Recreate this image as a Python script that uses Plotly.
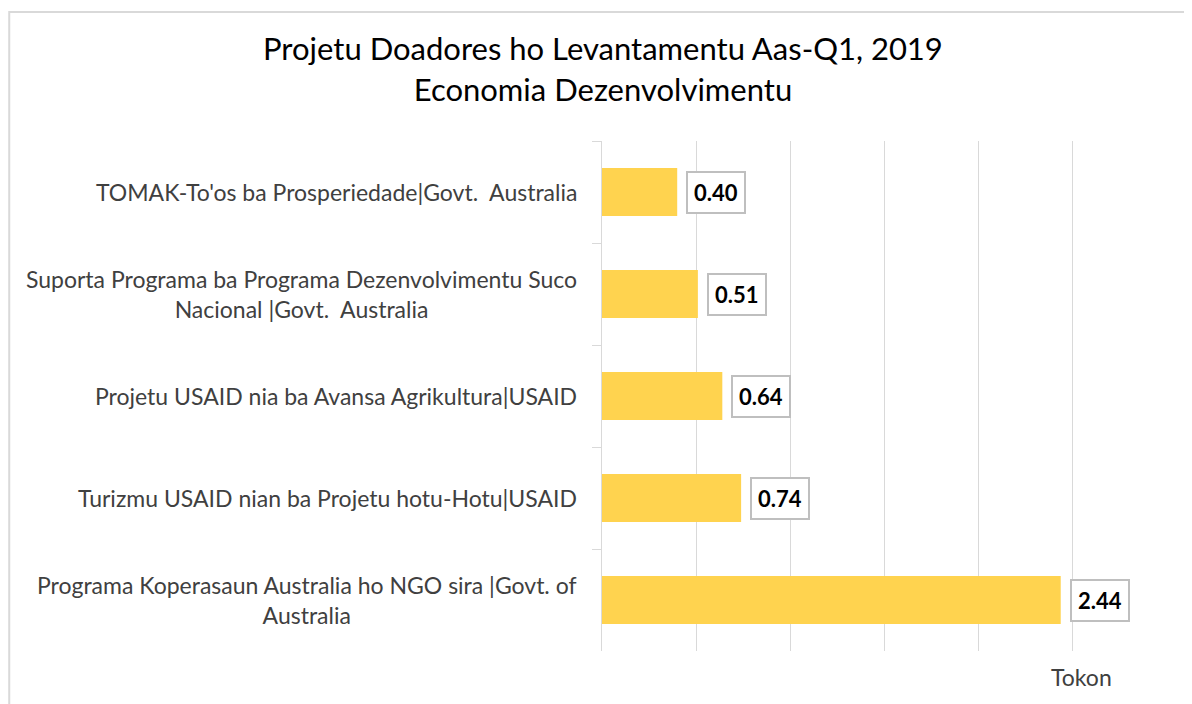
import plotly.graph_objects as go

categories = [
    "TOMAK-To'os ba Prosperiedade|Govt.  Australia",
    "Suporta Programa ba Programa Dezenvolvimentu Suco<br>Nacional |Govt.  Australia",
    "Projetu USAID nia ba Avansa Agrikultura|USAID",
    "Turizmu USAID nian ba Projetu hotu-Hotu|USAID",
    "Programa Koperasaun Australia ho NGO sira |Govt. of<br>Australia",
]
values = [0.40, 0.51, 0.64, 0.74, 2.44]
value_labels = ["0.40", "0.51", "0.64", "0.74", "2.44"]
title_text = "Projetu Doadores ho Levantamentu Aas-Q1, 2019<br>Economia Dezenvolvimentu"
axis_title = "Tokon"

FONT = "Lato, 'Open Sans', sans-serif"
GRID = "#d9d9d9"

fig = go.Figure()
fig.add_trace(go.Bar(
    x=values, y=categories, orientation="h",
    marker=dict(color="#FFD34F", line=dict(width=0)),
    width=0.47, hoverinfo="skip",
))

annotations = []
for c, v, t in zip(categories, values, value_labels):
    annotations.append(dict(
        x=v, y=c, xref="x", yref="y", text="<b>%s</b>" % t, showarrow=False,
        xanchor="left", yanchor="middle", xshift=9,
        font=dict(family=FONT, size=22, color="#000000"),
        bgcolor="#ffffff", bordercolor="#bfbfbf", borderwidth=2, borderpad=6,
    ))
    annotations.append(dict(
        x=0, y=c, xref="x", yref="y", text=c, showarrow=False,
        xanchor="right", yanchor="middle", xshift=-23, align="center",
        font=dict(family=FONT, size=23, color="#404040"),
    ))
annotations.append(dict(
    x=2.548, y=-0.051, xref="x", yref="paper", text=axis_title, showarrow=False,
    xanchor="center", yanchor="middle",
    font=dict(family=FONT, size=23, color="#404040"),
))

fig.update_layout(
    width=1184, height=696,
    margin=dict(l=594, r=26, t=133, b=53),
    paper_bgcolor="#ffffff", plot_bgcolor="#ffffff",
    showlegend=False,
    title=dict(text=title_text, x=0.5025, xanchor="center", y=0.925, yanchor="top",
               font=dict(family=FONT, size=31, color="#000000")),
    xaxis=dict(range=[0, 3.0], dtick=0.5, showgrid=True, gridcolor=GRID, gridwidth=1,
               showticklabels=False, zeroline=False, showline=False, ticks=""),
    yaxis=dict(categoryorder="array", categoryarray=categories, autorange="reversed",
               showticklabels=False, ticks="outside", tickson="boundaries", ticklen=9,
               tickcolor=GRID, showline=True, linecolor=GRID, linewidth=1,
               showgrid=False, zeroline=False),
    annotations=annotations,
    shapes=[dict(type="rect", xref="paper", yref="paper",
                 x0=-1.051, x1=1.2, y0=-0.3, y1=1.253,
                 line=dict(color="#d9d9d9", width=2), fillcolor="rgba(0,0,0,0)",
                 layer="below")],
)

fig.write_html("out.html")
